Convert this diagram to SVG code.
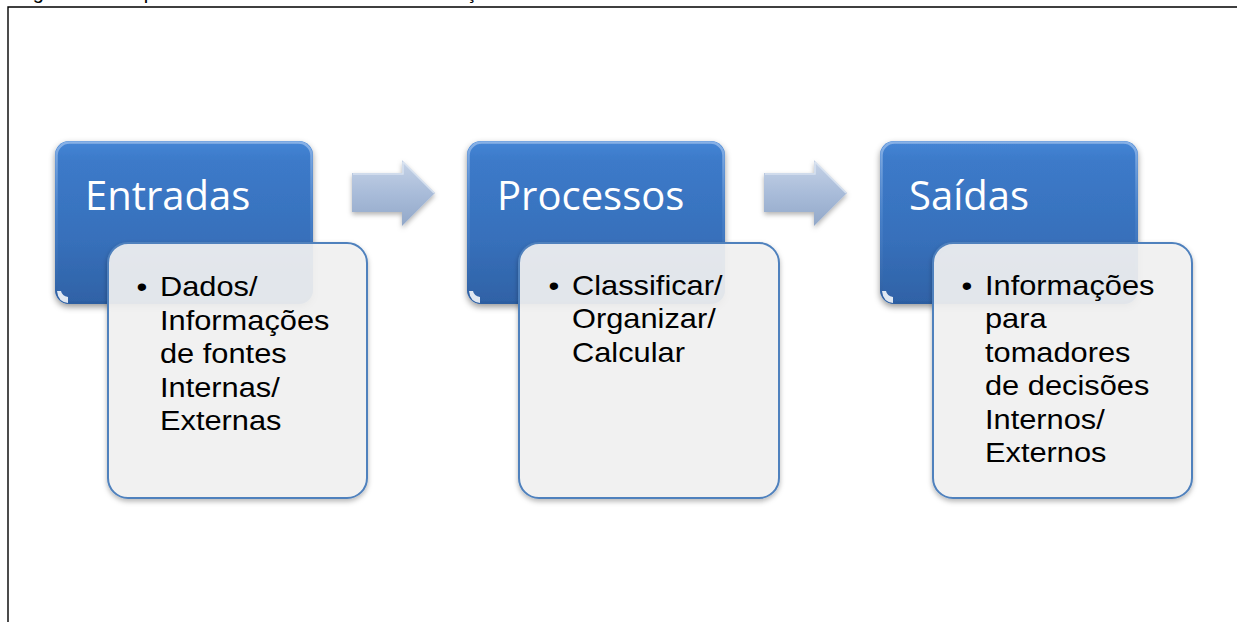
<svg xmlns="http://www.w3.org/2000/svg" width="1237" height="622" viewBox="0 0 1237 622">
<style>
.frame{stroke:#000;stroke-width:1.4;fill:none}
.caption{font-family:"Liberation Sans",Arial,sans-serif;font-size:20px;fill:#000}
.title{font-family:"Open Sans","Liberation Sans",sans-serif;font-size:40px;fill:#fff}
.body{font-family:"Liberation Sans",Arial,sans-serif;font-size:27.5px;fill:#000}
.head{fill:url(#blueGrad);filter:url(#shadow)}
.headHi{fill:none;stroke:url(#hiGrad);stroke-width:2.5}
.card{fill:#f3f3f3;fill-opacity:0.9;stroke:#4f81bd;stroke-width:2;filter:url(#shadow2)}
.arrow{fill:url(#arrowGrad);filter:url(#shadow2)}
.arrowHi{fill:none;stroke:#dfe7f2;stroke-width:1.5;stroke-opacity:0.8}
.spark{fill:#fff;fill-opacity:0.85}
</style>
<defs>
<linearGradient id="blueGrad" x1="0" y1="0" x2="0" y2="1">
<stop offset="0" stop-color="#4586d6"/>
<stop offset="0.12" stop-color="#3c7ac9"/>
<stop offset="0.6" stop-color="#3770bb"/>
<stop offset="1" stop-color="#2f62a6"/>
</linearGradient>
<linearGradient id="hiGrad" x1="0" y1="0" x2="0" y2="1">
<stop offset="0" stop-color="#8fb6e8" stop-opacity="0.9"/>
<stop offset="0.5" stop-color="#5a8fd2" stop-opacity="0.4"/>
<stop offset="1" stop-color="#2a5a9c" stop-opacity="0.6"/>
</linearGradient>
<linearGradient id="arrowGrad" x1="0" y1="0" x2="0" y2="1">
<stop offset="0" stop-color="#c6d3e7"/>
<stop offset="0.5" stop-color="#a9bcd9"/>
<stop offset="1" stop-color="#92a8c9"/>
</linearGradient>
<filter id="shadow" x="-10%" y="-10%" width="120%" height="130%">
<feDropShadow dx="0" dy="3" stdDeviation="3" flood-color="#000" flood-opacity="0.4"/>
</filter>
<filter id="shadow2" x="-10%" y="-10%" width="120%" height="130%">
<feDropShadow dx="0" dy="2.5" stdDeviation="2.5" flood-color="#000" flood-opacity="0.3"/>
</filter>
</defs>
<rect width="1237" height="622" fill="#fff"/>
<path class="frame" d="M8,622 V7 H1237"/>
<text class="caption" x="16" y="-1">Figura 1- Componentes de um Sistema de Informações</text>

<g id="connectors">
<g id="arrow-1">
<path class="arrow" d="M352,173 H402 V160 L435,193 L402,226 V212 H352 Z"/>
<path class="arrowHi" d="M353,174 H403 V162 M403,162 L434,193"/>
</g>
<g id="arrow-2">
<path class="arrow" d="M764,173 H814 V160 L847,193 L814,226 V212 H764 Z"/>
<path class="arrowHi" d="M765,174 H815 V162 M815,162 L846,193"/>
</g>
</g>

<g id="node-entradas">
<rect class="head" x="55" y="141" width="258" height="163" rx="14"/>
<rect class="headHi" x="56.5" y="142.5" width="255" height="160" rx="13"/>
<path class="spark" d="M57,291 Q58,302 68,303 L68,297 Q62,296 61,291 Z"/>
<text class="title" x="85" y="210">Entradas</text>
<rect class="card" x="108" y="243" width="259" height="255" rx="20"/>
<text class="body" transform="translate(160,296) scale(1.12,1)"><tspan x="-21" y="0">•</tspan><tspan x="0" y="0">Dados/</tspan><tspan x="0" dy="34">Informações</tspan><tspan x="0" dy="33.5">de fontes</tspan><tspan x="0" dy="33.5">Internas/</tspan><tspan x="0" dy="33.5">Externas</tspan></text>
</g>

<g id="node-processos">
<rect class="head" x="467" y="141" width="258" height="163" rx="14"/>
<rect class="headHi" x="468.5" y="142.5" width="255" height="160" rx="13"/>
<path class="spark" d="M469,291 Q470,302 480,303 L480,297 Q474,296 473,291 Z"/>
<text class="title" x="497" y="210">Processos</text>
<rect class="card" x="519" y="243" width="260" height="255" rx="20"/>
<text class="body" transform="translate(572,295) scale(1.12,1)"><tspan x="-21" y="0">•</tspan><tspan x="0" y="0">Classificar/</tspan><tspan x="0" dy="33.5">Organizar/</tspan><tspan x="0" dy="33.5">Calcular</tspan></text>
</g>

<g id="node-saidas">
<rect class="head" x="880" y="141" width="258" height="163" rx="14"/>
<rect class="headHi" x="881.5" y="142.5" width="255" height="160" rx="13"/>
<path class="spark" d="M882,291 Q883,302 893,303 L893,297 Q887,296 886,291 Z"/>
<text class="title" x="909" y="210">Saídas</text>
<rect class="card" x="933" y="243" width="259" height="255" rx="20"/>
<text class="body" transform="translate(985,295) scale(1.12,1)"><tspan x="-21" y="0">•</tspan><tspan x="0" y="0">Informações</tspan><tspan x="0" dy="33.4">para</tspan><tspan x="0" dy="33.4">tomadores</tspan><tspan x="0" dy="33.4">de decisões</tspan><tspan x="0" dy="33.4">Internos/</tspan><tspan x="0" dy="33.4">Externos</tspan></text>
</g>
</svg>
